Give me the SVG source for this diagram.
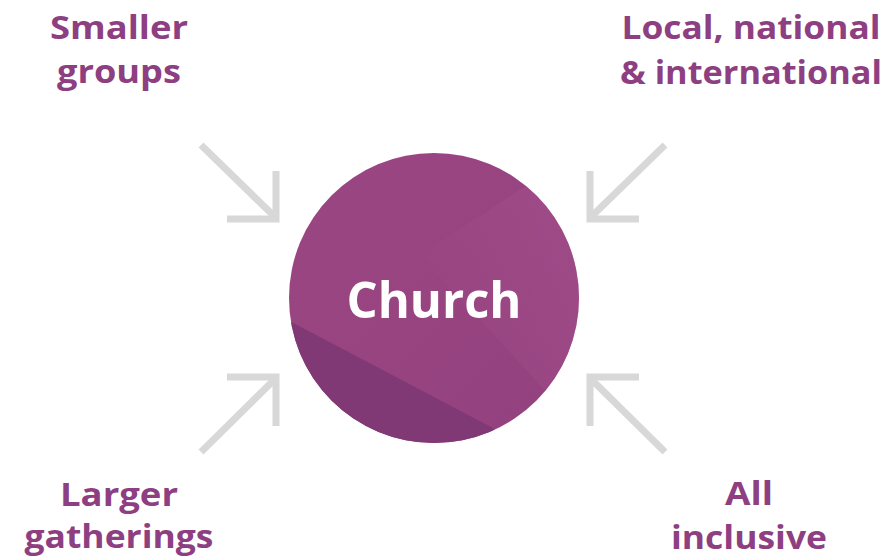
<svg xmlns="http://www.w3.org/2000/svg" width="893" height="559" viewBox="0 0 893 559">
  <style>
    .lbl { font-family: "Open Sans", "Liberation Sans", sans-serif; font-weight: 700; font-size: 33px; fill: #8d3f82; text-anchor: middle; }
    .arr { fill: none; stroke: #d8d8d8; stroke-width: 7; stroke-linecap: butt; stroke-linejoin: miter; }
    .title { font-family: "Open Sans", "Liberation Sans", sans-serif; font-weight: 700; font-size: 50px; fill: #ffffff; text-anchor: middle; }
  </style>
  <defs>
    <linearGradient id="base" x1="0" y1="0" x2="1" y2="1">
      <stop offset="0" stop-color="#9b4683"/>
      <stop offset="1" stop-color="#93427f"/>
    </linearGradient>
    <linearGradient id="lite" x1="1" y1="0" x2="0" y2="0.6">
      <stop offset="0" stop-color="#a85290" stop-opacity="0.6"/>
      <stop offset="1" stop-color="#a85290" stop-opacity="0"/>
    </linearGradient>
    <clipPath id="cc">
      <circle cx="434" cy="298" r="145"/>
    </clipPath>
  </defs>
  <rect width="893" height="559" fill="#ffffff"/>
  <g id="church">
    <circle cx="434" cy="298" r="145" fill="url(#base)"/>
    <g clip-path="url(#cc)">
      <polygon points="523,188 600,140 600,450 420,255" fill="url(#lite)"/>
      <polygon points="280,316 493,428 520,460 270,460" fill="#813975"/>
    </g>
    <text class="title" x="434" y="318" textLength="175" lengthAdjust="spacingAndGlyphs">Church</text>
  </g>
  <g id="connectors">
    <g id="arrow-tl">
      <line class="arr" x1="201" y1="145" x2="274" y2="216"/>
      <polyline class="arr" points="276,171 276,219 227,219"/>
    </g>
    <g id="arrow-tr">
      <line class="arr" x1="665" y1="145" x2="592" y2="216"/>
      <polyline class="arr" points="590,171 590,219 639,219"/>
    </g>
    <g id="arrow-bl">
      <line class="arr" x1="201" y1="452" x2="274" y2="380"/>
      <polyline class="arr" points="276,426 276,377 227,377"/>
    </g>
    <g id="arrow-br">
      <line class="arr" x1="665" y1="452" x2="592" y2="380"/>
      <polyline class="arr" points="590,426 590,377 639,377"/>
    </g>
  </g>
  <g id="smaller-groups">
    <text class="lbl" x="119" y="39" textLength="138" lengthAdjust="spacingAndGlyphs">Smaller</text>
    <text class="lbl" x="119" y="83" textLength="124" lengthAdjust="spacingAndGlyphs">groups</text>
  </g>
  <g id="local-national">
    <text class="lbl" x="751" y="39" textLength="259" lengthAdjust="spacingAndGlyphs">Local, national</text>
    <text class="lbl" x="751" y="84" textLength="262" lengthAdjust="spacingAndGlyphs">&amp; international</text>
  </g>
  <g id="larger-gatherings">
    <text class="lbl" x="119" y="506" textLength="118" lengthAdjust="spacingAndGlyphs">Larger</text>
    <text class="lbl" x="119" y="548" textLength="189" lengthAdjust="spacingAndGlyphs">gatherings</text>
  </g>
  <g id="all-inclusive">
    <text class="lbl" x="749" y="505" textLength="48" lengthAdjust="spacingAndGlyphs">All</text>
    <text class="lbl" x="749" y="549" textLength="156" lengthAdjust="spacingAndGlyphs">inclusive</text>
  </g>
</svg>
